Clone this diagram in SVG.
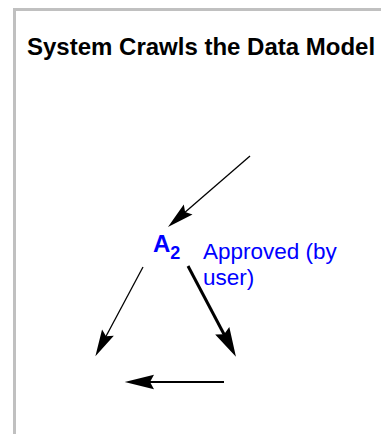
<svg xmlns="http://www.w3.org/2000/svg" width="381" height="434" viewBox="0 0 381 434">
<style>
.title{font-family:"Liberation Sans",Arial,sans-serif;font-weight:bold;font-size:24px;fill:#000}
.node{font-family:"Liberation Sans",Arial,sans-serif;font-weight:bold;fill:#0000ff}
.lbl{font-family:"Liberation Sans",Arial,sans-serif;font-size:22.5px;fill:#0000ff}
.edge{stroke:#000;fill:none}
</style>
<defs>
<marker id="ah" markerUnits="userSpaceOnUse" orient="auto" refX="0" refY="0" markerWidth="40" markerHeight="40" viewBox="-20 -10 30 20" overflow="visible">
<path d="M4,0 L-16,-5 L-13,0 L-16,5 Z" fill="#000"/>
</marker>
<marker id="ahm" markerUnits="userSpaceOnUse" orient="auto" refX="0" refY="0" markerWidth="40" markerHeight="40" viewBox="-20 -10 30 20" overflow="visible">
<path d="M4,0 L-18,-5.5 L-15,0 L-18,5.5 Z" fill="#000"/>
</marker>
<marker id="ahb" markerUnits="userSpaceOnUse" orient="auto" refX="0" refY="0" markerWidth="40" markerHeight="40" viewBox="-20 -10 30 20" overflow="visible">
<path d="M6,0 L-16,-6 L-13,0 L-16,6 Z" fill="#000"/>
</marker>
</defs>
<path d="M14.5,434 V9.5 H381" fill="none" stroke="#c0c0c0" stroke-width="3"/>
<text class="title" x="27" y="55">System Crawls the Data Model</text>
<g id="node-A2">
<text class="node" x="153" y="252" font-size="24">A<tspan font-size="18" dy="7">2</tspan></text>
</g>
<g id="label-approved">
<text class="lbl" x="203" y="259">Approved (by</text>
<text class="lbl" x="203" y="285">user)</text>
</g>
<g id="connectors">
<line class="edge" x1="250" y1="156" x2="172" y2="223.4" stroke-width="1.3" marker-end="url(#ah)"/>
<line class="edge" x1="143" y1="267" x2="97.9" y2="351.5" stroke-width="1.3" marker-end="url(#ah)"/>
<line class="edge" x1="188" y1="266" x2="232.2" y2="349.7" stroke-width="3" marker-end="url(#ahb)"/>
<line class="edge" x1="224" y1="382" x2="130" y2="382" stroke-width="2.2" marker-end="url(#ahm)"/>
</g>
</svg>
